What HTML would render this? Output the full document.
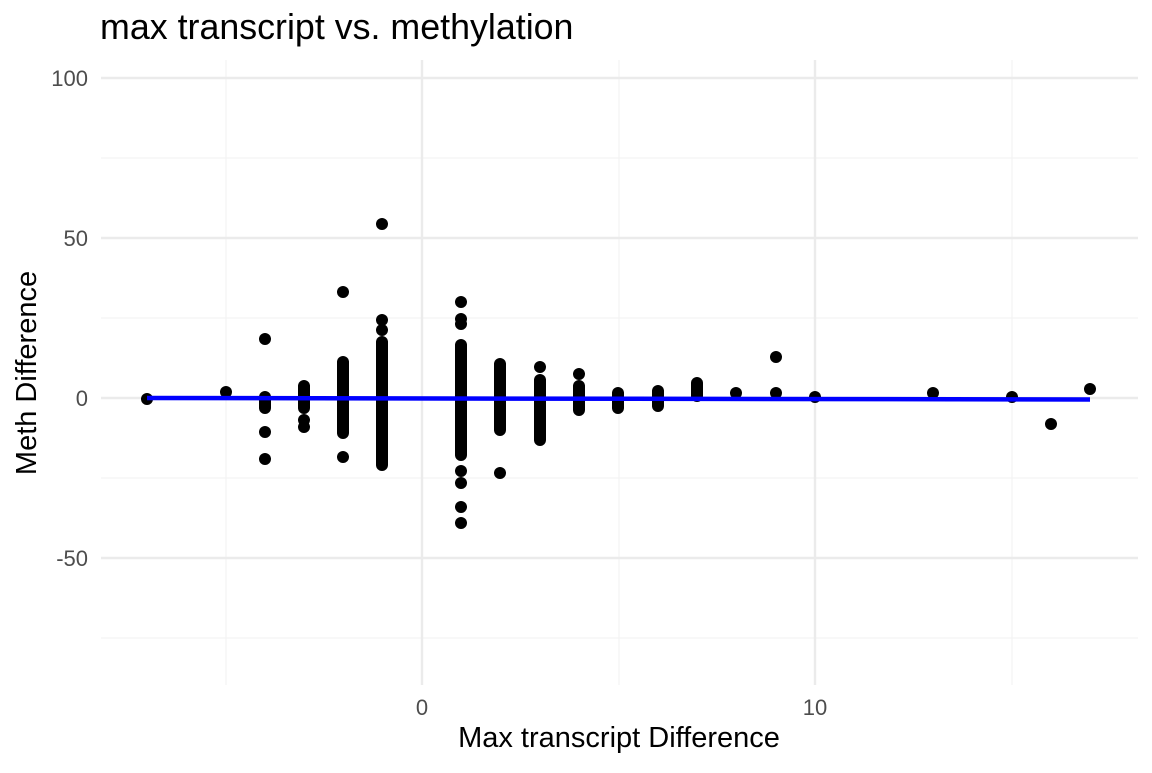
<!DOCTYPE html>
<html><head><meta charset="utf-8"><style>
html,body{margin:0;padding:0;background:#fff;}
text{font-family:"Liberation Sans",sans-serif;}
</style></head><body>
<svg width="1152" height="768" xmlns="http://www.w3.org/2000/svg">
<rect width="1152" height="768" fill="#fff"/>
<g stroke="#f3f3f3" stroke-width="1.2">
<line x1="101" x2="1138" y1="158" y2="158"/><line x1="101" x2="1138" y1="318" y2="318"/>
<line x1="101" x2="1138" y1="478" y2="478"/><line x1="101" x2="1138" y1="638" y2="638"/>
<line x1="226" x2="226" y1="60" y2="685"/><line x1="619" x2="619" y1="60" y2="685"/><line x1="1012" x2="1012" y1="60" y2="685"/>
</g>
<g stroke="#ebebeb" stroke-width="2.4">
<line x1="101" x2="1138" y1="78" y2="78"/><line x1="101" x2="1138" y1="238" y2="238"/>
<line x1="101" x2="1138" y1="398" y2="398"/><line x1="101" x2="1138" y1="558" y2="558"/>
<line x1="422" x2="422" y1="60" y2="685"/><line x1="815" x2="815" y1="60" y2="685"/>
</g>
<g stroke="#000" stroke-width="12" stroke-linecap="round">
<line x1="382" x2="382" y1="342" y2="465"/>
<line x1="461" x2="461" y1="345" y2="455"/>
<line x1="343" x2="343" y1="362" y2="433"/>
<line x1="500" x2="500" y1="364" y2="430"/>
<line x1="540" x2="540" y1="380" y2="440"/>
<line x1="579" x2="579" y1="386" y2="410"/>
<line x1="304" x2="304" y1="386" y2="408"/>
<line x1="618" x2="618" y1="393" y2="408"/>
<line x1="658" x2="658" y1="391" y2="406"/>
<line x1="697" x2="697" y1="383" y2="396"/>
<line x1="265" x2="265" y1="397" y2="408"/>
</g>
<g fill="#000">
<circle cx="382" cy="224" r="6"/><circle cx="382" cy="320" r="6"/><circle cx="382" cy="330" r="6"/>
<circle cx="461" cy="302" r="6"/><circle cx="461" cy="319" r="6"/><circle cx="461" cy="324" r="6"/>
<circle cx="461" cy="471" r="6"/><circle cx="461" cy="483" r="6"/><circle cx="461" cy="507" r="6"/><circle cx="461" cy="523" r="6"/>
<circle cx="343" cy="292" r="6"/><circle cx="343" cy="457" r="6"/>
<circle cx="500" cy="473" r="6"/>
<circle cx="540" cy="367" r="6"/>
<circle cx="304" cy="420" r="6"/><circle cx="304" cy="427" r="6"/>
<circle cx="265" cy="339" r="6"/><circle cx="265" cy="432" r="6"/><circle cx="265" cy="459" r="6"/>
<circle cx="579" cy="374" r="6"/>
<circle cx="226" cy="392" r="6"/><circle cx="147" cy="399" r="6"/>
<circle cx="736" cy="393" r="6"/><circle cx="776" cy="357" r="6"/><circle cx="776" cy="393" r="6"/>
<circle cx="815" cy="397" r="6"/><circle cx="933" cy="393" r="6"/><circle cx="1012" cy="397" r="6"/>
<circle cx="1051" cy="424" r="6"/><circle cx="1090" cy="389" r="6"/>
</g>
<line x1="147" y1="398" x2="1090" y2="399.5" stroke="#0000ff" stroke-width="4.5"/>
<text x="100" y="39" font-size="35.8" fill="#000">max transcript vs. methylation</text>
<g font-size="22" fill="#4d4d4d" text-anchor="end">
<text x="88" y="86">100</text><text x="88" y="246">50</text><text x="88" y="406">0</text><text x="88" y="566">-50</text>
</g>
<g font-size="22" fill="#4d4d4d" text-anchor="middle">
<text x="422" y="715">0</text><text x="815" y="715">10</text>
</g>
<text x="619" y="747" font-size="29" text-anchor="middle" fill="#000">Max transcript Difference</text>
<text transform="translate(36,373) rotate(-90)" font-size="29" text-anchor="middle" fill="#000">Meth Difference</text>
</svg>
</body></html>
